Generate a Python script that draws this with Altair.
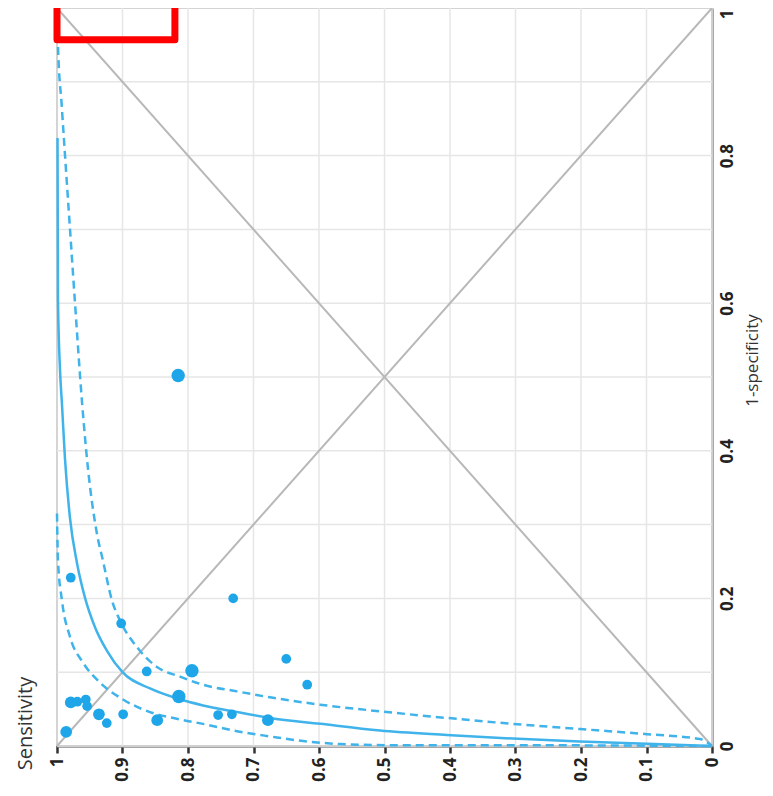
import altair as alt
import pandas as pd

# ---- axis ticks / grid ----
sens_ticks = [1, 0.9, 0.8, 0.7, 0.6, 0.5, 0.4, 0.3, 0.2, 0.1, 0]
fpr_ticks = [0, 0.2, 0.4, 0.6, 0.8, 1]
grid_vals = [0, 0.1, 0.2, 0.3, 0.4, 0.5, 0.6, 0.7, 0.8, 0.9, 1]

# ---- studies ----
study_sens = [0.979, 0.902, 0.863, 0.979, 0.969, 0.956, 0.954, 0.936, 0.924, 0.899,
              0.847, 0.986, 0.814, 0.731, 0.794, 0.650, 0.618, 0.754, 0.733, 0.678, 0.815]
study_fpr = [0.228, 0.166, 0.101, 0.059, 0.060, 0.063, 0.054, 0.043, 0.031, 0.043,
             0.035, 0.019, 0.067, 0.200, 0.102, 0.118, 0.083, 0.042, 0.043, 0.035, 0.502]
study_weight = [1, 1, 1, 2, 1, 1, 1, 2, 1, 1, 2, 2, 3, 1, 3, 1, 1, 1, 1, 2, 3]

# ---- SROC curve ----
curve_sens = [0.9992, 0.9985, 0.9954, 0.9924, 0.9878, 0.9802, 0.9695, 0.9573, 0.9420,
              0.9237, 0.900, 0.858, 0.815, 0.777, 0.725, 0.675, 0.598, 0.507, 0.405,
              0.304, 0.202, 0.099, 0.0]
curve_fpr = [0.824, 0.604, 0.510, 0.463, 0.389, 0.309, 0.248, 0.201, 0.161,
             0.129, 0.100, 0.078, 0.064, 0.055, 0.046, 0.038, 0.030, 0.021, 0.015,
             0.010, 0.006, 0.003, 0.0]

upper_sens = [0.9995, 0.9985, 0.9928, 0.9878, 0.9802, 0.9725, 0.9618, 0.9527, 0.9389,
              0.9298, 0.916, 0.9038, 0.8779, 0.8473, 0.8122, 0.7771, 0.7252, 0.6748,
              0.5985, 0.5069, 0.4046, 0.3038, 0.2015, 0.0992, 0.0183, 0.0]
upper_fpr = [1.0, 0.949, 0.868, 0.801, 0.701, 0.600, 0.466, 0.376, 0.287,
             0.251, 0.197, 0.170, 0.134, 0.107, 0.094, 0.083, 0.074, 0.066,
             0.056, 0.047, 0.038, 0.030, 0.023, 0.016, 0.0094, 0.0]

lower_sens = [1.0, 0.9985, 0.9924, 0.9802, 0.9603, 0.9344, 0.8992, 0.858, 0.8122,
              0.7771, 0.7252, 0.6748, 0.6244, 0.5679, 0.4763, 0.300, 0.0]
lower_fpr = [0.315, 0.251, 0.197, 0.148, 0.113, 0.086, 0.063, 0.046, 0.036,
             0.030, 0.020, 0.013, 0.0067, 0.0027, 0.001, 0.001, 0.0]

# ---- reference diagonals ----
diag_sens = [1, 0]
diag_a_fpr = [0, 1]
diag_b_fpr = [1, 0]

# ---- red highlight box ----
box_sens = [1.0, 0.82]
box_fpr = [0.957, 1.03]

BLUE_PT = "#1fa6e9"
BLUE_LN = "#3fb3ea"
FONT = "Open Sans"
LABEL_EXPR = "datum.value == 0 ? '0' : (datum.value == 1 ? '1' : format(datum.value, '.1f'))"

xscale = alt.Scale(domain=[0, 1], reverse=True, nice=False, zero=False)
yscale = alt.Scale(domain=[0, 1], nice=False, zero=False)

xaxis = alt.Axis(values=sens_ticks, grid=False, labelAngle=270, labelAlign="right",
                 labelBaseline="middle", labelFont=FONT, labelFontSize=17,
                 labelFontWeight="bold", labelColor="#222222", labelPadding=4,
                 labelExpr=LABEL_EXPR,
                 labelFlush=False, labelOverlap=False, tickSize=7, tickWidth=2.5,
                 tickColor="#333333", domainColor="#8a8a8a", domainWidth=2.5,
                 title="Sensitivity", titleAngle=270, titleX=-32, titleY=-23,
                 titleAlign="center", titleBaseline="middle", titleFont=FONT,
                 titleFontSize=20, titleFontWeight="normal", titleColor="#333333")
yaxis = alt.Axis(orient="right", values=fpr_ticks, grid=False, labelAngle=270,
                 labelAlign="center", labelBaseline="top", labelFont=FONT,
                 labelFontSize=17, labelFontWeight="bold", labelColor="#222222",
                 labelPadding=7, labelExpr=LABEL_EXPR,
                 labelOffset={"condition": {"test": "datum.value == 1", "value": 6},
                              "value": 0},
                 labelFlush=False, labelOverlap=False, ticks=False,
                 domainColor="#8a8a8a", domainWidth=2.5,
                 title="1-specificity", titleAngle=270, titleX=32, titleY=352,
                 titleAlign="center", titleBaseline="top", titleFont=FONT,
                 titleFontSize=17, titleFontWeight="normal", titleColor="#333333")


def X(field="sens"):
    return alt.X(f"{field}:Q", scale=xscale, axis=xaxis, title="Sensitivity")


def Y(field="fpr"):
    return alt.Y(f"{field}:Q", scale=yscale, axis=yaxis, title="1-specificity")


grid_df = pd.DataFrame({"sens": grid_vals, "fpr": grid_vals})
vgrid = alt.Chart(grid_df).mark_rule(color="#e6e6e6", strokeWidth=1.5).encode(x=X())
hgrid = alt.Chart(grid_df).mark_rule(color="#e6e6e6", strokeWidth=1.5).encode(y=Y())

diag_df = pd.DataFrame({"sens": diag_sens + diag_sens,
                        "fpr": diag_a_fpr + diag_b_fpr,
                        "g": ["a", "a", "b", "b"]})
diags = alt.Chart(diag_df).mark_line(color="#b8b8b8", strokeWidth=2).encode(
    x=X(), y=Y(), detail="g:N")


def curve(sv, fv, dash):
    df = pd.DataFrame({"sens": sv, "fpr": fv, "i": list(range(len(sv)))})
    kw = dict(color=BLUE_LN, strokeWidth=2.5, interpolate="monotone")
    if dash:
        kw["strokeDash"] = [8, 5]
    return alt.Chart(df).mark_line(**kw).encode(x=X(), y=Y(), order="i:Q")


sroc = curve(curve_sens, curve_fpr, False)
upper = curve(upper_sens, upper_fpr, True)
lower = curve(lower_sens, lower_fpr, True)

pts_df = pd.DataFrame({"sens": study_sens, "fpr": study_fpr, "w": study_weight})
points = alt.Chart(pts_df).mark_circle(color=BLUE_PT, opacity=1).encode(
    x=X(), y=Y(),
    size=alt.Size("w:Q", scale=alt.Scale(domain=[1, 3], range=[95, 180]), legend=None))

box_df = pd.DataFrame({"sens": [box_sens[0]], "sens2": [box_sens[1]],
                       "fpr": [box_fpr[0]], "fpr2": [box_fpr[1]]})
box = alt.Chart(box_df).mark_rect(fill=None, stroke="#ff0000", strokeWidth=7,
                                  strokeJoin="round").encode(
    x=X(), x2="sens2:Q", y=Y(), y2="fpr2:Q")

chart = alt.layer(vgrid, hgrid, diags, lower, upper, sroc, points, box).properties(
    width=655, height=738,
    autosize=alt.AutoSizeParams(type="none"),
    padding={"left": 49, "top": 0, "right": 53, "bottom": 42},
    background="white",
).configure_view(stroke="#a0a0a0", strokeWidth=2)

chart.save("out.html", embed_options={"renderer": "svg", "actions": False})
